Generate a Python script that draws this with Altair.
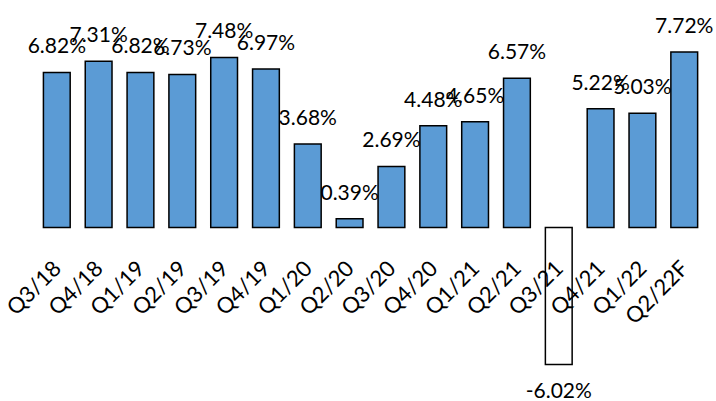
import altair as alt
import pandas as pd

categories = ["Q3/18", "Q4/18", "Q1/19", "Q2/19", "Q3/19", "Q4/19", "Q1/20", "Q2/20",
              "Q3/20", "Q4/20", "Q1/21", "Q2/21", "Q3/21", "Q4/21", "Q1/22", "Q2/22F"]
values = [6.82, 7.31, 6.82, 6.73, 7.48, 6.97, 3.68, 0.39,
          2.69, 4.48, 4.65, 6.57, -6.02, 5.22, 5.03, 7.72]

df = pd.DataFrame({"cat": categories, "value": values})
df["label"] = [f"{v:.2f}%" for v in values]

# layout constants
STEP = 41.83
PX_PER = 22.75
ZERO_Y = 227.6
W = 16 * STEP
H = 401
PAD_LEFT = 56.8 - STEP / 2
PI = 0.36
FONT = "Lato"
FS = 21

ymax = ZERO_Y / PX_PER
ymin = -(H - ZERO_Y) / PX_PER

x = alt.X("cat:N", sort=categories, axis=None,
          scale=alt.Scale(paddingInner=PI, paddingOuter=PI / 2))
y_scale = alt.Scale(domain=[ymin, ymax], nice=False, zero=False)

base = alt.Chart(df).encode(x=x)

bars = base.mark_bar(stroke="black", strokeWidth=1.5).encode(
    y=alt.Y("value:Q", scale=y_scale, axis=None),
    y2=alt.datum(0),
    fill=alt.condition(alt.datum.value < 0, alt.value("white"), alt.value("#5B9BD5")),
)

pos_labels = base.transform_filter(alt.datum.value >= 0).mark_text(
    font=FONT, fontSize=FS, color="black", baseline="alphabetic", align="center", dy=-19
).encode(y=alt.Y("value:Q", scale=y_scale, axis=None), text="label:N")

neg_labels = base.transform_filter(alt.datum.value < 0).mark_text(
    font=FONT, fontSize=FS, color="black", baseline="alphabetic", align="center", dy=33
).encode(y=alt.Y("value:Q", scale=y_scale, axis=None), text="label:N")

cat_labels = base.mark_text(
    font=FONT, fontSize=FS + 1, color="black", baseline="middle", align="right",
    angle=315, dx=-26, dy=27
).encode(y=alt.datum(0, scale=y_scale), text="cat:N")

chart = alt.layer(bars, pos_labels, neg_labels, cat_labels).properties(
    width=W, height=H,
    autosize=alt.AutoSizeParams(type="none"),
    padding={"left": PAD_LEFT, "top": 0, "right": 716 - PAD_LEFT - W, "bottom": 0},
).configure_view(stroke=None, strokeWidth=0)

chart.save("out.html", embed_options={"renderer": "svg", "actions": False})
